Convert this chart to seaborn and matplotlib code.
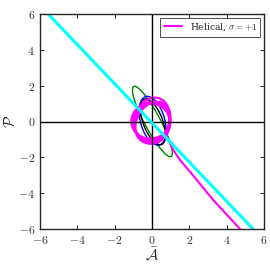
import numpy as np
import pandas as pd
import matplotlib
matplotlib.use("Agg")
import matplotlib.pyplot as plt
from matplotlib.patches import Ellipse
import seaborn as sns

# straight cyan line (end points)
cyan_x = [-5.56, 5.41]
cyan_y = [6.0, -6.0]

# magenta tail leaving the loops
tail_x = [0.75, 0.95, 1.14, 1.5, 2.03, 3.28, 4.71, 4.9]
tail_y = [-0.7, -1.2, -1.59, -2.15, -2.8, -4.39, -6.0, -6.25]

# magenta loops: centre x, centre y, width, height, angle
loop_cx = [-0.05, 0.0, 0.05, -0.08, 0.02, 0.0]
loop_cy = [0.0, 0.08, -0.05, 0.02, -0.1, 0.0]
loop_w = [2.0, 1.85, 1.75, 2.05, 1.9, 1.95]
loop_h = [2.1, 2.55, 2.4, 1.95, 2.3, 2.2]
loop_ang = [0, -15, -25, 5, -10, -5]

# other orbits: centre, width, height, angle, colour
orbit_cx = [0.02, 0.03, 0.05]
orbit_cy = [0.0, 0.04, -0.02]
orbit_w = [4.4, 2.8, 2.7]
orbit_h = [0.85, 1.3, 1.05]
orbit_ang = [117, 105, 110]
orbit_col = ["green", "blue", "black"]

ticks = [-6, -4, -2, 0, 2, 4, 6]

sns.set_style("ticks")
plt.rcParams["font.family"] = ["serif"]
plt.rcParams["mathtext.fontset"] = "cm"
plt.rcParams["xtick.direction"] = "in"
plt.rcParams["ytick.direction"] = "in"

fig = plt.figure(figsize=(2.7, 2.7), dpi=100)
ax = fig.add_axes([0.148, 0.152, 0.83, 0.796])

ax.axhline(0, color="black", lw=1)
ax.axvline(0, color="black", lw=1)

for i in range(len(orbit_cx)):
    ax.add_patch(Ellipse((orbit_cx[i], orbit_cy[i]), orbit_w[i], orbit_h[i],
                         angle=orbit_ang[i], fill=False, ec=orbit_col[i], lw=1))

for i in range(len(loop_cx)):
    ax.add_patch(Ellipse((loop_cx[i], loop_cy[i]), loop_w[i], loop_h[i],
                         angle=loop_ang[i], fill=False, ec="magenta", lw=1.6))

tail = pd.DataFrame({"x": tail_x, "y": tail_y})
sns.lineplot(data=tail, x="x", y="y", sort=False, color="magenta", lw=1.5,
             ax=ax, label=r"Helical, $\sigma = +1$")

cyan = pd.DataFrame({"x": cyan_x, "y": cyan_y})
sns.lineplot(data=cyan, x="x", y="y", sort=False, color="cyan", lw=2.2, ax=ax)

ax.set_xlim(-6, 6)
ax.set_ylim(-6, 6)
ax.set_xticks(ticks)
ax.set_yticks(ticks)
ax.set_xticklabels([f"${t}$" for t in ticks], fontsize=8.5, color="#333333")
ax.set_yticklabels([f"${t}$" for t in ticks], fontsize=8.5, color="#333333")
ax.tick_params(top=True, right=True, length=3, width=0.6, color="black")
for s in ax.spines.values():
    s.set_linewidth(1)
ax.set_xlabel(r"$\bar{\mathcal{A}}$", fontsize=11, labelpad=0)
ax.set_ylabel(r"$\mathcal{P}$", fontsize=11, labelpad=0)

leg = ax.legend(loc="upper right", fontsize=6.6, frameon=True, fancybox=False,
                edgecolor="black", handlelength=2, borderaxespad=0.4)
leg.get_frame().set_linewidth(0.6)

fig.savefig("out.png", dpi=100)
